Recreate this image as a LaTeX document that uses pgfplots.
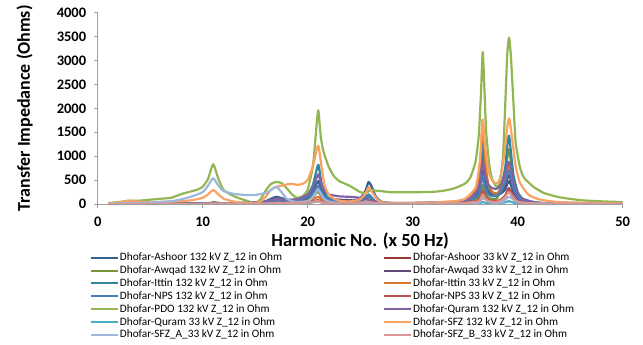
\documentclass[border=0pt]{standalone}
\usepackage{pgfplots}
\pgfplotsset{compat=1.18}
\usepackage{fontspec}
\setmainfont{Carlito}
\definecolor{cAshA}{HTML}{376092}
\definecolor{cAshB}{HTML}{953735}
\definecolor{cAwqA}{HTML}{77933C}
\definecolor{cAwqB}{HTML}{604A7B}
\definecolor{cIttA}{HTML}{31859C}
\definecolor{cIttB}{HTML}{D9762F}
\definecolor{cNpsA}{HTML}{4A7EBB}
\definecolor{cNpsB}{HTML}{C0504D}
\definecolor{cPdo}{HTML}{92B752}
\definecolor{cQurA}{HTML}{7F63A3}
\definecolor{cQurB}{HTML}{4BACC6}
\definecolor{cSfz}{HTML}{F9A262}
\definecolor{cSfzA}{HTML}{9DB8DB}
\definecolor{cSfzB}{HTML}{D99694}
\begin{document}
\begin{tikzpicture}
\useasboundingbox (0,0) rectangle (643pt,345pt);
\begin{axis}[
  at={(97.7pt,141pt)}, anchor=south west,
  scale only axis, width=525pt, height=191.3pt,
  xmin=0, xmax=50, ymin=0, ymax=4000,
  xtick={0,10,...,50}, ytick={0,500,...,4000},
  axis x line=bottom, axis y line=left,
  axis line style={draw=gray!75, -, line width=0.6pt},
  tick align=outside, major tick length=4pt,
  tick style={draw=gray!75, line width=0.6pt},
  scaled ticks=false,
  /pgf/number format/assume math mode=true,
  /pgf/number format/set thousands separator={},
  ticklabel style={font=\bfseries\fontsize{14.5}{15}\selectfont},
  xticklabel style={yshift=-5pt},
  yticklabel style={xshift=-4pt},
  xlabel={Harmonic No. (x 50 Hz)},
  ylabel={Transfer Impedance (Ohms)},
  xlabel style={font=\bfseries\fontsize{18.5}{19}\selectfont, at={([yshift=-37pt]axis description cs:0.5,0)}, anchor=center},
  ylabel style={font=\bfseries\fontsize{18}{19}\selectfont, at={([xshift=-73pt]axis description cs:0,0.5)}, anchor=center},
  every axis plot/.append style={line width=2.2pt, line join=round, smooth, tension=0.35},
  legend columns=2,
  legend cell align=left,
  legend image code/.code={\draw[#1, line width=2pt, smooth=false] (0pt,0pt) -- (27pt,0pt);},
  legend style={at={([xshift=-8pt,yshift=-47pt]axis description cs:0,0)}, anchor=north west,
    draw=none, fill=none, inner sep=0pt, row sep=0pt,
    font=\fontsize{11.3}{12}\selectfont,
    nodes={inner sep=1pt, text height=8.4pt, text depth=2.5pt},
    /tikz/every even column/.append style={column sep=100pt}},
]
% Ashoor 132
\addplot[cAshA] coordinates {(1,0)(5,2)(10,8)(11,20)(12,10)(15,15)(16,60)(17,150)(18,90)(19,100)(20,170)(20.5,280)(21,480)(21.3,300)(21.7,150)(22,100)(23,50)(24,50)(25,120)(25.5,280)(25.8,460)(26.1,360)(26.5,150)(27,50)(28,20)(30,10)(34,40)(35.5,100)(36.2,250)(36.45,550)(36.67,1050)(36.9,580)(37.2,300)(37.6,200)(38,180)(38.4,220)(38.8,300)(39,410)(39.17,480)(39.35,400)(39.6,250)(40,120)(40.5,70)(41.5,30)(43,10)(50,2)};
\addlegendentry{Dhofar-Ashoor 132 kV Z\_12 in Ohm}
% Ashoor 33
\addplot[cAshB] coordinates {(1,0)(10,3)(11,10)(12,5)(16,10)(17,30)(18,15)(20,30)(21,60)(21.5,25)(23,10)(25.5,30)(25.8,50)(26.3,20)(27,5)(34,15)(36.2,60)(36.45,120)(36.67,230)(36.9,130)(37.2,70)(37.6,50)(38,50)(38.4,90)(38.8,170)(39,270)(39.17,330)(39.35,260)(39.6,140)(40,60)(40.5,30)(42,10)(50,1)};
\addlegendentry{Dhofar-Ashoor 33 kV Z\_12 in Ohm}
% Awqad 132
\addplot[cAwqA] coordinates {(1,0)(10,10)(11,40)(12,15)(16,40)(17,100)(18,50)(20,100)(20.5,160)(21,250)(21.4,130)(22,60)(23,30)(26,40)(27,15)(34,30)(36.2,120)(36.45,220)(36.67,400)(36.9,230)(37.2,130)(37.6,100)(38,110)(38.4,300)(38.8,600)(39,950)(39.17,1150)(39.35,900)(39.6,480)(40,200)(40.5,100)(41.5,40)(43,15)(50,3)};
\addlegendentry{Dhofar-Awqad 132 kV Z\_12 in Ohm}
% Awqad 33
\addplot[cAwqB] coordinates {(1,0)(10,5)(11,15)(16,20)(17,50)(18,40)(19,60)(20,130)(20.5,200)(21,300)(21.4,180)(22,120)(23,90)(24,80)(25,60)(26,40)(27,15)(34,30)(35.5,90)(36.2,180)(36.45,380)(36.67,700)(36.9,420)(37.2,250)(37.6,200)(38,210)(38.4,260)(38.8,380)(39,520)(39.17,600)(39.35,500)(39.6,300)(40,140)(40.5,70)(41.5,30)(43,10)(50,2)};
\addlegendentry{Dhofar-Awqad 33 kV Z\_12 in Ohm}
% Ittin 132
\addplot[cIttA] coordinates {(1,0)(10,5)(11,20)(12,10)(16,40)(17,110)(18,70)(19,90)(20,200)(20.5,400)(21,820)(21.3,450)(21.7,200)(22,120)(23,50)(25,60)(25.8,150)(26.3,70)(27,20)(30,10)(34,40)(35.5,120)(36.2,300)(36.45,650)(36.67,1300)(36.9,700)(37.2,330)(37.6,220)(38,200)(38.4,350)(38.8,750)(39,1200)(39.17,1430)(39.35,1100)(39.6,600)(40,250)(40.5,110)(41.5,40)(43,12)(50,2)};
\addlegendentry{Dhofar-Ittin 132 kV Z\_12 in Ohm}
% Ittin 33
\addplot[cIttB] coordinates {(1,0)(10,5)(11,30)(12,10)(16,20)(17,50)(18,30)(20,60)(21,150)(21.5,60)(23,20)(25.8,40)(27,10)(34,50)(35.5,150)(36.2,400)(36.45,850)(36.67,1760)(36.9,900)(37.2,420)(37.6,250)(38,220)(38.4,300)(38.8,500)(39,700)(39.17,800)(39.35,650)(39.6,380)(40,170)(40.5,80)(41.5,30)(43,10)(50,2)};
\addlegendentry{Dhofar-Ittin 33 kV Z\_12 in Ohm}
% NPS 132
\addplot[cNpsA] coordinates {(1,0)(10,5)(11,15)(16,30)(17,80)(18,50)(19,70)(20,150)(20.5,230)(21,380)(21.4,200)(22,100)(23,50)(25,70)(25.8,200)(26.3,90)(27,25)(34,30)(35.5,90)(36.2,180)(36.45,320)(36.67,600)(36.9,350)(37.2,200)(37.6,160)(38,170)(38.4,260)(38.8,450)(39,620)(39.17,700)(39.35,580)(39.6,330)(40,150)(40.5,70)(41.5,25)(43,8)(50,1)};
\addlegendentry{Dhofar-NPS 132 kV Z\_12 in Ohm}
% NPS 33
\addplot[cNpsB] coordinates {(1,0)(10,3)(11,10)(16,10)(17,25)(18,15)(20,40)(21,80)(21.5,30)(23,10)(25.5,30)(25.8,60)(26.3,25)(27,5)(34,15)(36.2,70)(36.45,150)(36.67,280)(36.9,160)(37.2,90)(37.6,60)(38,60)(38.4,90)(38.8,170)(39,250)(39.17,300)(39.35,240)(39.6,130)(40,60)(40.5,30)(42,10)(50,1)};
\addlegendentry{Dhofar-NPS 33 kV Z\_12 in Ohm}
% PDO 132
\addplot[cPdo] coordinates {(1,20)(2,40)(3,70)(4,70)(5,90)(6,110)(7,130)(8,210)(9,270)(9.5,300)(10,360)(10.5,520)(11,830)(11.5,520)(12,290)(13,160)(14,80)(15,20)(15.5,100)(16,280)(16.5,420)(17,460)(17.5,440)(18,330)(18.5,200)(19,130)(19.5,160)(20,300)(20.5,800)(20.75,1400)(21,1960)(21.25,1400)(21.5,1100)(22,780)(22.5,580)(23,480)(24,380)(25,250)(25.5,230)(26,290)(26.5,280)(27,270)(28,245)(30,245)(32,255)(33,280)(34,330)(35,430)(35.5,560)(36,900)(36.3,1450)(36.5,2300)(36.67,3180)(36.85,2300)(37,1500)(37.3,800)(37.6,500)(38,360)(38.3,450)(38.6,1000)(38.8,2000)(39,3100)(39.17,3480)(39.35,3100)(39.6,2100)(39.8,1300)(40.2,780)(40.6,550)(41.5,360)(42.5,230)(44,140)(46,80)(48,55)(50,40)};
\addlegendentry{Dhofar-PDO 132 kV Z\_12 in Ohm}
% Quram 132
\addplot[cQurA] coordinates {(1,0)(10,10)(11,25)(12,15)(14,20)(16,50)(17,110)(18,80)(19,100)(20,200)(20.5,350)(21,620)(21.3,400)(21.7,250)(22,200)(23,160)(24,150)(25,130)(25.5,110)(26,80)(27,30)(30,10)(34,40)(35,80)(35.5,120)(36.2,300)(36.45,520)(36.67,900)(36.9,600)(37.2,400)(37.6,330)(38,320)(38.4,400)(38.8,620)(39,800)(39.17,880)(39.35,750)(39.6,450)(40,200)(40.5,100)(41.5,40)(43,15)(50,3)};
\addlegendentry{Dhofar-Quram 132 kV Z\_12 in Ohm}
% Quram 33
\addplot[cQurB] coordinates {(1,0)(10,3)(11,10)(12,5)(17,15)(20,20)(21,60)(21.5,20)(23,5)(26,10)(30,3)(36,15)(36.67,40)(37.2,15)(38,15)(38.8,35)(39.17,60)(39.6,30)(40.5,10)(50,1)};
\addlegendentry{Dhofar-Quram 33 kV Z\_12 in Ohm}
% SFZ 132
\addplot[cSfz] coordinates {(1,10)(2,30)(3,70)(4,50)(5,40)(6,45)(7,50)(8,60)(9,80)(10,130)(10.5,200)(11,290)(11.5,200)(12,110)(13,50)(14,20)(15,15)(15.5,50)(16,150)(16.5,300)(17,360)(17.5,380)(18,410)(18.5,420)(19,400)(19.5,420)(20,500)(20.5,800)(21,1220)(21.3,800)(21.6,400)(22,200)(22.5,110)(23,70)(24,50)(25,100)(25.5,220)(25.8,350)(26.2,230)(26.6,100)(27,40)(28,20)(30,20)(32,30)(34,60)(35,110)(36,350)(36.4,900)(36.67,1750)(36.9,1200)(37.2,700)(37.6,480)(38,430)(38.3,520)(38.7,1000)(39,1600)(39.2,1790)(39.45,1400)(39.8,800)(40.2,450)(41,200)(42,100)(44,40)(50,10)};
\addlegendentry{Dhofar-SFZ 132 kV Z\_12 in Ohm}
% SFZ_A 33
\addplot[cSfzA] coordinates {(1,5)(3,20)(5,30)(7,60)(8,100)(9,160)(10,250)(10.5,380)(11,540)(11.5,380)(12,270)(13,210)(14,190)(15,190)(16,230)(16.5,290)(17,360)(17.5,250)(18,110)(18.5,60)(19,40)(20,60)(20.5,150)(21,300)(21.5,120)(22,50)(23,20)(25,10)(26,30)(27,10)(30,5)(36,20)(36.67,120)(37.5,30)(38.5,40)(39.2,150)(40,40)(42,10)(50,2)};
\addlegendentry{Dhofar-SFZ\_A\_33 kV Z\_12 in Ohm}
% SFZ_B 33
\addplot[cSfzB] coordinates {(1,0)(10,3)(11,10)(16,8)(17,20)(20,30)(21,60)(21.5,25)(23,8)(25.8,40)(27,5)(34,12)(36.2,50)(36.45,100)(36.67,200)(36.9,110)(37.2,60)(37.6,45)(38,45)(38.4,70)(38.8,140)(39,210)(39.17,250)(39.35,200)(39.6,110)(40,50)(40.5,25)(42,8)(50,1)};
\addlegendentry{Dhofar-SFZ\_B\_33 kV Z\_12 in Ohm}
\end{axis}
\end{tikzpicture}
\end{document}
